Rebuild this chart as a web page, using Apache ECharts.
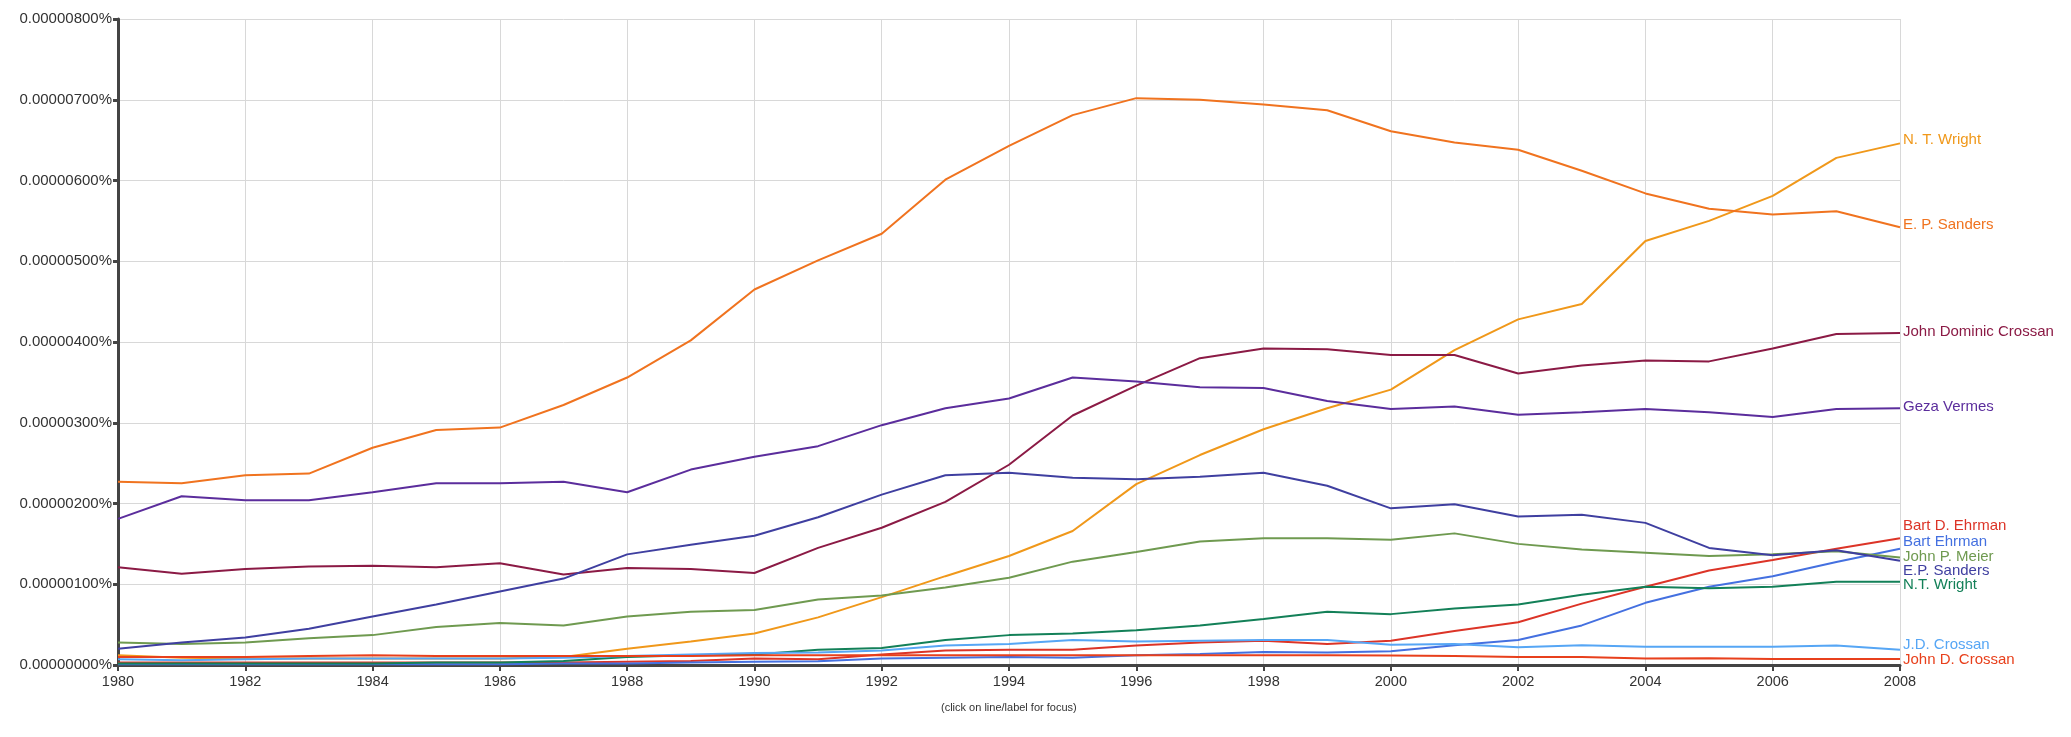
<!DOCTYPE html>
<html>
<head>
    <meta charset="utf-8">
    <title>Ngram</title>
    <style>
        html, body { margin: 0; padding: 0; background: #fff; }
    </style>
</head>
<body>
<div id="main" style="width: 2071px;height:737px;"></div>
    <script type="text/javascript" src="https://cdn.jsdelivr.net/npm/echarts@6/dist/echarts.min.js"></script>
    <script type="text/javascript">
        // years on the x axis
        var years = [];
        for (var y = 1980; y <= 2008; y++) years.push(y);

        // values in units of 0.000001 %
        var ntWrightA = [0.12,0.09,0.08,0.08,0.08,0.08,0.08,0.10,0.20,0.29,0.39,0.59,0.84,1.10,1.35,1.66,2.24,2.60,2.92,3.18,3.41,3.90,4.28,4.47,5.25,5.50,5.81,6.28,6.46];
        var epSandersA = [2.27,2.25,2.35,2.37,2.69,2.91,2.94,3.22,3.56,4.02,4.65,5.01,5.34,6.01,6.43,6.81,7.02,7.00,6.94,6.87,6.61,6.47,6.38,6.12,5.84,5.65,5.58,5.62,5.42];
        var johnDominicCrossan = [1.21,1.13,1.19,1.22,1.23,1.21,1.26,1.12,1.20,1.19,1.14,1.45,1.70,2.02,2.48,3.09,3.46,3.80,3.92,3.91,3.84,3.84,3.61,3.71,3.77,3.76,3.92,4.10,4.11];
        var gezaVermes = [1.81,2.09,2.04,2.04,2.14,2.25,2.25,2.27,2.14,2.42,2.58,2.71,2.97,3.18,3.30,3.56,3.51,3.44,3.43,3.27,3.17,3.20,3.10,3.13,3.17,3.13,3.07,3.17,3.18];
        var bartDEhrman = [0.03,0.03,0.03,0.03,0.03,0.03,0.03,0.03,0.04,0.05,0.08,0.07,0.13,0.18,0.19,0.19,0.24,0.28,0.30,0.26,0.30,0.42,0.53,0.76,0.97,1.17,1.30,1.44,1.57];
        var bartEhrman = [0.01,0.01,0.01,0.01,0.01,0.01,0.01,0.02,0.02,0.03,0.04,0.045,0.08,0.09,0.10,0.09,0.12,0.135,0.16,0.155,0.17,0.245,0.31,0.49,0.77,0.97,1.10,1.275,1.44];
        var johnPMeier = [0.28,0.26,0.28,0.33,0.37,0.47,0.52,0.49,0.60,0.66,0.68,0.81,0.86,0.96,1.08,1.28,1.40,1.53,1.57,1.57,1.55,1.63,1.50,1.43,1.39,1.35,1.37,1.41,1.33];
        var epSandersB = [0.20,0.28,0.34,0.45,0.60,0.75,0.91,1.07,1.37,1.49,1.60,1.83,2.11,2.35,2.38,2.32,2.30,2.33,2.38,2.22,1.94,1.99,1.84,1.86,1.76,1.45,1.36,1.42,1.29];
        var ntWrightB = [0.02,0.02,0.02,0.02,0.02,0.03,0.03,0.05,0.10,0.12,0.13,0.19,0.21,0.31,0.37,0.39,0.43,0.49,0.57,0.66,0.63,0.70,0.75,0.87,0.97,0.95,0.97,1.03,1.03];
        var jdCrossan = [0.07,0.06,0.07,0.08,0.08,0.08,0.08,0.09,0.11,0.13,0.15,0.155,0.18,0.24,0.26,0.31,0.29,0.30,0.31,0.31,0.25,0.26,0.22,0.245,0.225,0.225,0.225,0.24,0.19];
        var johnDCrossan = [0.10,0.10,0.10,0.11,0.12,0.11,0.11,0.11,0.11,0.11,0.12,0.12,0.12,0.12,0.12,0.12,0.12,0.12,0.12,0.12,0.117,0.11,0.10,0.10,0.08,0.085,0.075,0.075,0.075];

        // name, values, colour, end-label vertical nudge (px) so crowded labels stack like the original
        var lines = [
            ['N. T. Wright', ntWrightA, '#f0981a', -3],
            ['E. P. Sanders', epSandersA, '#f0731f', -2],
            ['John Dominic Crossan', johnDominicCrossan, '#8b1a45', -1],
            ['Geza Vermes', gezaVermes, '#5b2d9c', -1],
            ['Bart D. Ehrman', bartDEhrman, '#dc3427', -12],
            ['Bart Ehrman', bartEhrman, '#4470e0', -7],
            ['John P. Meier', johnPMeier, '#6f9a50', -1],
            ['E.P. Sanders', epSandersB, '#3f3fa0', 10],
            ['N.T. Wright', ntWrightB, '#138058', 3],
            ['J.D. Crossan', jdCrossan, '#56a6f5', -5],
            ['John D. Crossan', johnDCrossan, '#e8401c', 1]
        ];

        var charts = echarts.init(document.getElementById('main'));
        var font = 'Liberation Sans, Arial, sans-serif';

        var series = lines.map(function (l) {
            return {
                name: l[0],
                type: 'line',
                data: years.map(function (yr, i) { return [yr, l[1][i]]; }),
                symbol: 'none',
                smooth: false,
                lineStyle: { width: 2, color: l[2] },
                itemStyle: { color: l[2] },
                endLabel: {
                    show: true,
                    formatter: '{a}',
                    color: l[2],
                    fontFamily: font,
                    fontSize: 15,
                    distance: 3,
                    offset: [0, l[3]]
                },
                animation: false
            };
        });

        var option = {
            backgroundColor: '#fff',
            animation: false,
            grid: { left: 118, right: 171, top: 19, bottom: 72 },
            xAxis: {
                type: 'value',
                min: 1980,
                max: 2008,
                interval: 2,
                axisLine: { show: true, onZero: false, lineStyle: { color: '#444', width: 3 } },
                axisTick: { show: true, length: 6, lineStyle: { color: '#444', width: 2 } },
                axisLabel: {
                    color: '#333', fontFamily: font, fontSize: 14.5, margin: 9,
                    formatter: function (v) { return String(v); }
                },
                splitLine: { show: true, lineStyle: { color: '#d8d8d8', width: 1 } }
            },
            yAxis: {
                type: 'value',
                min: 0,
                max: 8,
                interval: 1,
                axisLine: { show: true, lineStyle: { color: '#444', width: 3 } },
                axisTick: { show: true, length: 5, lineStyle: { color: '#444', width: 3 } },
                axisLabel: {
                    color: '#333', fontFamily: font, fontSize: 15, margin: 6,
                    formatter: function (v) { return (v / 1e6).toFixed(8) + '%'; }
                },
                splitLine: { show: true, lineStyle: { color: '#d8d8d8', width: 1 } }
            },
            graphic: [{
                type: 'text',
                left: 941,
                top: 702,
                style: {
                    text: '(click on line/label for focus)',
                    fill: '#333',
                    font: '11px Liberation Sans, Arial, sans-serif'
                }
            }],
            series: series
        };

        charts.setOption(option);
    </script>
</body>
</html>
